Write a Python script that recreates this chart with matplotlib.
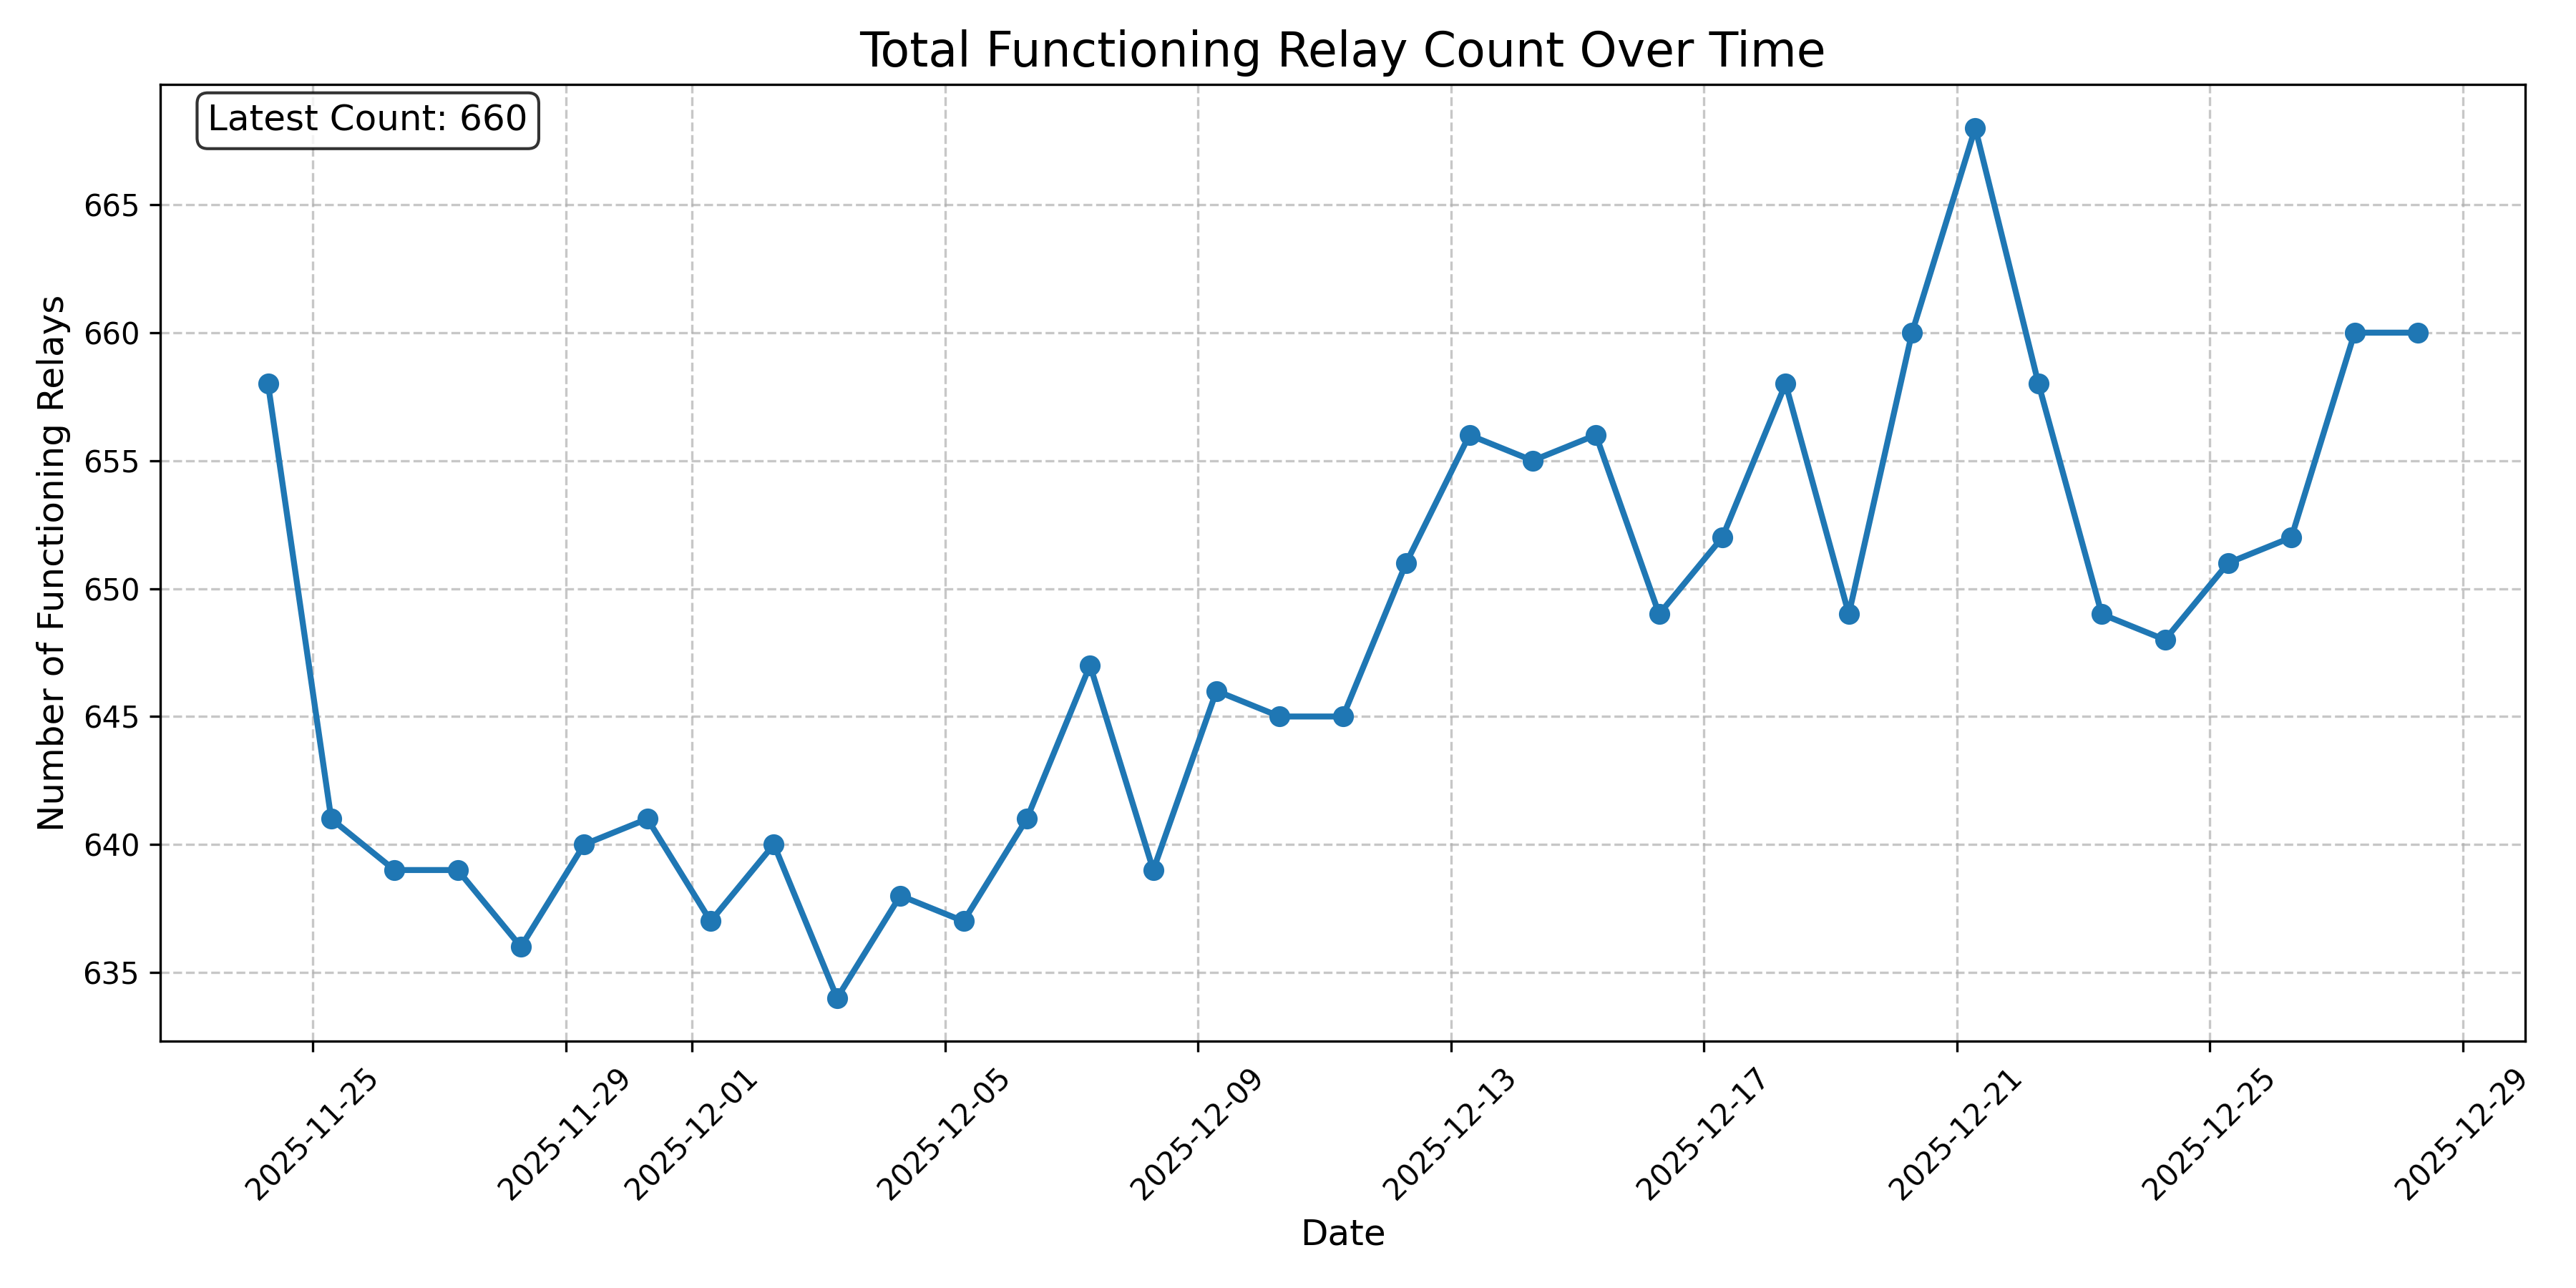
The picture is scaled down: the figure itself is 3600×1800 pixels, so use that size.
import matplotlib
matplotlib.use("Agg")
from matplotlib import pyplot as plt
import pandas as pd

# daily relay counts, sampled each morning
dates = pd.date_range("2025-11-24 07:00", "2025-12-28 07:00", freq="D")
counts = [658, 641, 639, 639, 636, 640, 641, 637, 640, 634,
          638, 637, 641, 647, 639, 646, 645, 645, 651, 656,
          655, 656, 649, 652, 658, 649, 660, 668, 658, 649,
          648, 651, 652, 660, 660]

fig, ax = plt.subplots(figsize=(12, 6))
ax.plot(dates, counts, marker="o", linestyle="-", linewidth=2, markersize=6)
ax.set_title("Total Functioning Relay Count Over Time", fontsize=16)
ax.set_xlabel("Date", fontsize=12)
ax.set_ylabel("Number of Functioning Relays", fontsize=12)
ax.grid(True, linestyle="--", alpha=0.7)
plt.xticks(rotation=45)

ax.text(0.02, 0.98, "Latest Count: %d" % counts[-1], transform=ax.transAxes,
        fontsize=12, verticalalignment="top",
        bbox=dict(boxstyle="round", facecolor="white", alpha=0.8))

plt.tight_layout()
plt.savefig("out.png", dpi=300)
